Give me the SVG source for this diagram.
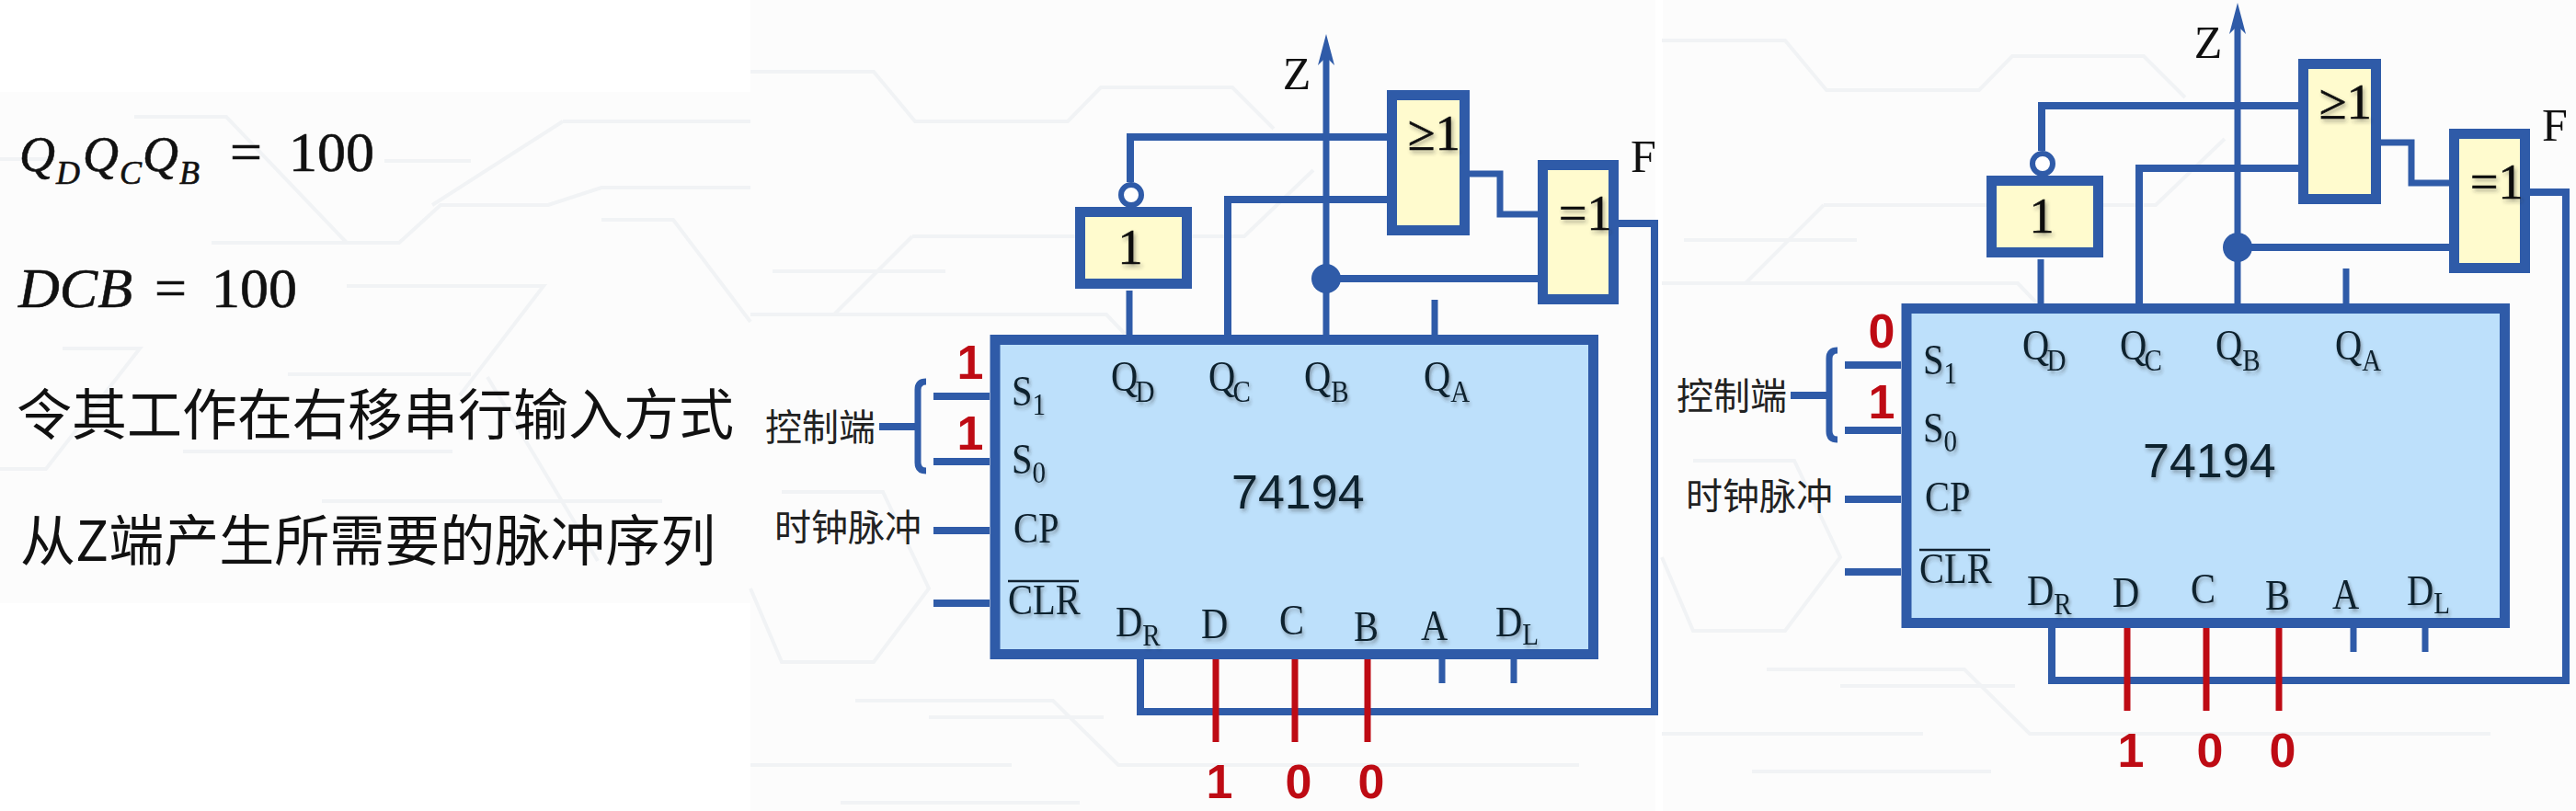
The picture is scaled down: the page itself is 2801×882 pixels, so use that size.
<svg xmlns="http://www.w3.org/2000/svg" width="2801" height="882" viewBox="0 0 2801 882">
<defs>
<style>
.bg{fill:#FCFCFC}
.trace{fill:none;stroke:#F1F3F5;stroke-width:4}
.w{fill:none;stroke:#2F5BA8;stroke-width:7}
.wt{fill:none;stroke:#2F5BA8;stroke-width:8}
.r{fill:none;stroke:#BE0B14;stroke-width:7}
.chip{fill:#BDE0FB;stroke:#2F5BA8;stroke-width:11}
.gate{fill:#FFFBCE;stroke:#2F5BA8;stroke-width:11}
.dot{fill:#2F5BA8}
.bubble{fill:#FFFFFF;stroke:#2F5BA8;stroke-width:6}
.serif{font-family:"Liberation Serif",serif;font-size:46px;fill:#10202E;filter:url(#sh);transform-box:fill-box;transform-origin:0 0;transform:scaleX(.88)}
.plain{font-family:"Liberation Serif",serif;font-size:50px;fill:#111}
.gt{font-family:"Liberation Serif",serif;font-size:54px;fill:#111;stroke:#111;stroke-width:.7;filter:url(#sh)}
.sub{font-size:33px}
.big{font-family:"Liberation Sans",sans-serif;font-size:52px;fill:#10202E;filter:url(#sh)}
.red{font-family:"Liberation Sans",sans-serif;font-weight:bold;font-size:52px;fill:#BE0B14;text-anchor:middle}
.cn{font-family:"Noto Sans CJK SC",sans-serif;font-size:40px;fill:#222}
.cnb{font-family:"Noto Sans CJK SC",sans-serif;font-size:60px;fill:#111}
.math{font-family:"Liberation Serif",serif;font-style:italic;font-size:62px;fill:#111;stroke:#111;stroke-width:.6}
.mathn{font-style:normal}
.mq{font-size:54px}
.msub{font-size:36px}
</style>
<filter id="sh" x="-20%" y="-20%" width="150%" height="150%"><feDropShadow dx="2" dy="3" stdDeviation="2" flood-color="#333" flood-opacity="0.4"/></filter>
<marker id="arrow" markerUnits="userSpaceOnUse" markerWidth="36" markerHeight="20" refX="9" refY="10" orient="auto"><path d="M0 1L34 10L0 19L9 10Z" fill="#2F5BA8"/></marker>
</defs>
<rect width="2801" height="882" fill="#FFFFFF"/>
<g id="background">
<rect class="bg" x="0" y="100" width="816" height="556"/>
<rect class="bg" x="816" y="0" width="984" height="882"/>
<rect class="bg" x="1808" y="0" width="993" height="882"/>
<path class="trace" d="M0 173H60M146 127H246L377 264M230 264H434L479 223H596L654 204H816M418 175H512M612 132H816M612 132L470 223M377 311H591L500 430M654 239H732L816 350M68 379H152L50 510H0M199 491H492M313 407H512M530 410L650 610M350 545H720"/>
<g id="traces-mid"><path class="trace" d="M816 78H950L995 132H1161L1197 95H1340L1385 140M992 257H1353L1428 185M816 342H1203L1223 363M840 295H1028M907 342L992 257M930 762H1145L1216 832H1717M914 873H1174M816 832H1100M850 535H960L1010 640L950 720H850L816 640M1010 780H1200"/></g>
<g transform="translate(991,-34)"><path class="trace" d="M816 78H950L995 132H1161L1197 95H1340L1385 140M992 257H1353L1428 185M816 342H1203L1223 363M840 295H1028M907 342L992 257M930 762H1145L1216 832H1717M914 873H1174M816 832H1100M850 535H960L1010 640L950 720H850L816 640M1010 780H1200"/></g>
</g>
<g id="left-text">
<text class="math" x="21" y="186"><tspan class="mq">Q</tspan><tspan class="msub" x="61" y="200">D</tspan><tspan class="mq" x="90" y="186">Q</tspan><tspan class="msub" x="130" y="200">C</tspan><tspan class="mq" x="155" y="186">Q</tspan><tspan class="msub" x="195" y="200">B</tspan><tspan class="mathn" x="250" y="186">=</tspan><tspan class="mathn" x="314" y="186">100</tspan></text>
<text class="math" x="20" y="334">DCB<tspan class="mathn" x="168">=</tspan><tspan class="mathn" x="230">100</tspan></text>
<text class="cnb" x="18" y="473">令其工作在右移串行输入方式</text>
<text class="cnb" x="22" y="610">从Z端产生所需要的脉冲序列</text>
</g>
<g id="connectors-a">
<path class="wt" d="M1508 149H1229V198"/>
<path class="wt" d="M1508 217H1335V364"/>
<path class="w" d="M1598 189H1631V233H1672"/>
<path class="w" d="M1442 364V62" marker-end="url(#arrow)"/>
<path class="wt" d="M1442 303H1672"/>
<circle class="dot" cx="1442" cy="303" r="16"/>
<path class="w" d="M1228 316V364M1560 326V364M1568 717V743M1646 717V743"/>
<path class="wt" d="M1760 243H1799V774H1240V717"/>
<path class="r" d="M1322 717V807M1408 717V807M1487 717V807"/>
<path class="wt" d="M1015 431H1076M1015 502H1076M1015 577H1076M1015 656H1076M956 464H998"/>
<path class="w" d="M1007 415Q998 415 998 424V503Q998 512 1007 512"/>
</g>
<g id="a-gate-not"><rect class="gate" x="1174.500" y="230.500" width="116" height="78"/><circle class="bubble" cx="1230" cy="212" r="11"/><text class="gt" x="1229" y="287" text-anchor="middle">1</text></g>
<g id="a-gate-or"><rect class="gate" x="1513.500" y="103.500" width="79" height="147"/><text class="gt" x="1531" y="163">≥1</text></g>
<g id="a-gate-xor"><rect class="gate" x="1677.500" y="179.500" width="77" height="146"/><text class="gt" x="1695" y="250">=1</text></g>
<g id="a-chip">
<rect class="chip" x="1082" y="369.500" width="650.500" height="342"/>
<text class="big" x="1339" y="553">74194</text>
<text class="serif" x="1100" y="441">S<tspan class="sub" dy="10">1</tspan></text>
<text class="serif" x="1100" y="515">S<tspan class="sub" dy="10">0</tspan></text>
<text class="serif" x="1102" y="590">CP</text>
<text class="serif" x="1096" y="668">CLR</text>
<path d="M1096 632H1173" stroke="#10202E" stroke-width="2.500"/>
<text class="serif" x="1208" y="425">Q<tspan class="sub" dx="-3" dy="12">D</tspan></text>
<text class="serif" x="1314" y="425">Q<tspan class="sub" dx="-3" dy="12">C</tspan></text>
<text class="serif" x="1418" y="425">Q<tspan class="sub" dy="12">B</tspan></text>
<text class="serif" x="1548" y="425">Q<tspan class="sub" dy="12">A</tspan></text>
<text class="serif" x="1213" y="692">D<tspan class="sub" dy="10">R</tspan></text>
<text class="serif" x="1306" y="694">D</text>
<text class="serif" x="1391" y="690">C</text>
<text class="serif" x="1472" y="697">B</text>
<text class="serif" x="1545" y="696">A</text>
<text class="serif" x="1626" y="692">D<tspan class="sub" dy="9">L</tspan></text>
</g>
<g id="a-labels">
<text class="plain" x="1410" y="97" text-anchor="middle">Z</text>
<text class="plain" x="1773" y="187">F</text>
<text class="cn" x="832" y="479">控制端</text>
<text class="cn" x="842" y="588">时钟脉冲</text>
<text class="red" x="1055" y="412">1</text>
<text class="red" x="1055" y="489">1</text>
<text class="red" x="1326" y="868">1</text>
<text class="red" x="1412" y="868">0</text>
<text class="red" x="1491" y="868">0</text>
</g>
<g transform="translate(991,-34)">
<g id="connectors-b">
<path class="wt" d="M1508 149H1229V198"/>
<path class="wt" d="M1508 217H1335V364"/>
<path class="w" d="M1598 189H1631V233H1672"/>
<path class="w" d="M1442 364V62" marker-end="url(#arrow)"/>
<path class="wt" d="M1442 303H1672"/>
<circle class="dot" cx="1442" cy="303" r="16"/>
<path class="w" d="M1228 316V364M1560 326V364M1568 717V743M1646 717V743"/>
<path class="wt" d="M1760 243H1799V774H1240V717"/>
<path class="r" d="M1322 717V807M1408 717V807M1487 717V807"/>
<path class="wt" d="M1015 431H1076M1015 502H1076M1015 577H1076M1015 656H1076M956 464H998"/>
<path class="w" d="M1007 415Q998 415 998 424V503Q998 512 1007 512"/>
</g>
<g id="b-gate-not"><rect class="gate" x="1174.500" y="230.500" width="116" height="78"/><circle class="bubble" cx="1230" cy="212" r="11"/><text class="gt" x="1229" y="287" text-anchor="middle">1</text></g>
<g id="b-gate-or"><rect class="gate" x="1513.500" y="103.500" width="79" height="147"/><text class="gt" x="1531" y="163">≥1</text></g>
<g id="b-gate-xor"><rect class="gate" x="1677.500" y="179.500" width="77" height="146"/><text class="gt" x="1695" y="250">=1</text></g>
<g id="b-chip">
<rect class="chip" x="1082" y="369.500" width="650.500" height="342"/>
<text class="big" x="1339" y="553">74194</text>
<text class="serif" x="1100" y="441">S<tspan class="sub" dy="10">1</tspan></text>
<text class="serif" x="1100" y="515">S<tspan class="sub" dy="10">0</tspan></text>
<text class="serif" x="1102" y="590">CP</text>
<text class="serif" x="1096" y="668">CLR</text>
<path d="M1096 632H1173" stroke="#10202E" stroke-width="2.500"/>
<text class="serif" x="1208" y="425">Q<tspan class="sub" dx="-3" dy="12">D</tspan></text>
<text class="serif" x="1314" y="425">Q<tspan class="sub" dx="-3" dy="12">C</tspan></text>
<text class="serif" x="1418" y="425">Q<tspan class="sub" dy="12">B</tspan></text>
<text class="serif" x="1548" y="425">Q<tspan class="sub" dy="12">A</tspan></text>
<text class="serif" x="1213" y="692">D<tspan class="sub" dy="10">R</tspan></text>
<text class="serif" x="1306" y="694">D</text>
<text class="serif" x="1391" y="690">C</text>
<text class="serif" x="1472" y="697">B</text>
<text class="serif" x="1545" y="696">A</text>
<text class="serif" x="1626" y="692">D<tspan class="sub" dy="9">L</tspan></text>
</g>
<g id="b-labels">
<text class="plain" x="1410" y="97" text-anchor="middle">Z</text>
<text class="plain" x="1773" y="187">F</text>
<text class="cn" x="832" y="479">控制端</text>
<text class="cn" x="842" y="588">时钟脉冲</text>
<text class="red" x="1055" y="412">0</text>
<text class="red" x="1055" y="489">1</text>
<text class="red" x="1326" y="868">1</text>
<text class="red" x="1412" y="868">0</text>
<text class="red" x="1491" y="868">0</text>
</g>
</g>
</svg>
